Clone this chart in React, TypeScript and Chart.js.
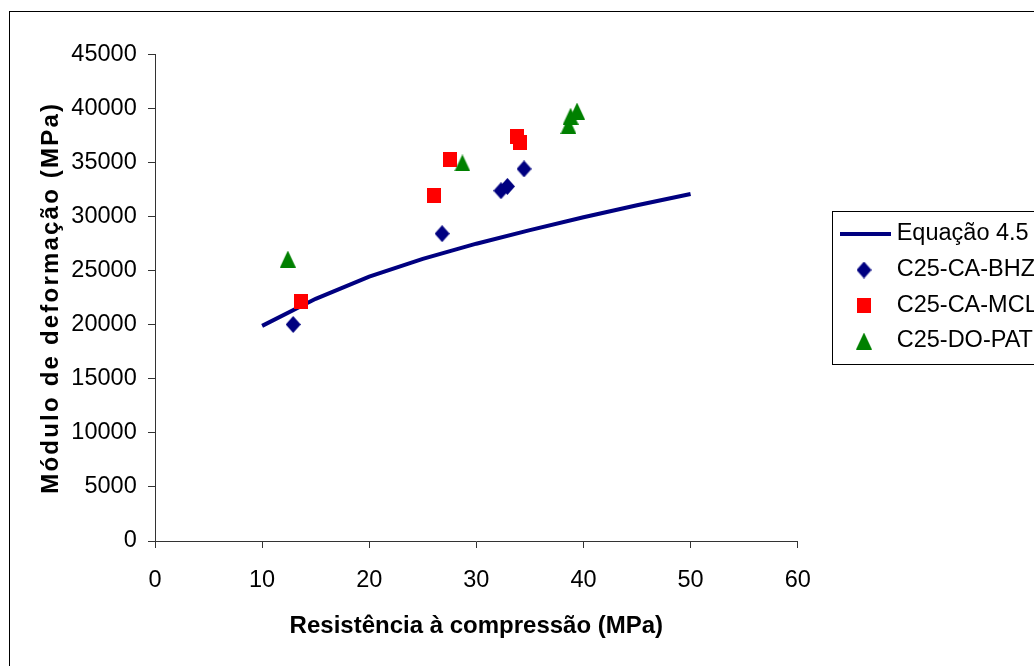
import React, { useEffect, useRef } from "react";
import { Chart, registerables } from "chart.js";

Chart.register(...registerables);

// ---- data ----
const seriesLabels = ["Equação 4.5", "C25-CA-BHZ", "C25-CA-MCL", "C25-DO-PAT"];

const eqX = [10, 15, 20, 25, 30, 35, 40, 45, 50];
const eqY = [19900, 22400, 24450, 26100, 27500, 28750, 29950, 31050, 32100];

const bhzX = [12.9, 26.8, 32.3, 32.9, 34.45];
const bhzY = [20030, 28430, 32400, 32800, 34420];

const mclX = [13.6, 26.0, 27.5, 33.8, 34.1];
const mclY = [22120, 31970, 35280, 37430, 36880];

const patX = [12.4, 28.7, 38.6, 38.8, 39.4];
const patY = [26080, 34970, 38430, 39290, 39770];

const xTicks = [0, 10, 20, 30, 40, 50, 60];
const yTicks = [0, 5000, 10000, 15000, 20000, 25000, 30000, 35000, 40000, 45000];

const xTitle = "Resistência à compressão (MPa)";
const yTitle = "Módulo de deformação (MPa)";

// ---- styling ----
const FONT = "'Liberation Sans', Arial, Helvetica, sans-serif";
const NAVY = "#000080";
const RED = "#FF0000";
const GREEN = "#008000";

function makeMarker(shape: string, color: string, w: number, h: number) {
  const c = document.createElement("canvas");
  c.width = w;
  c.height = h;
  const g = c.getContext("2d")!;
  g.fillStyle = color;
  g.beginPath();
  if (shape === "diamond") {
    g.moveTo(w / 2, 0);
    g.lineTo(w, h / 2);
    g.lineTo(w / 2, h);
    g.lineTo(0, h / 2);
  } else if (shape === "triangle") {
    g.moveTo(w / 2, 0);
    g.lineTo(w, h);
    g.lineTo(0, h);
  } else {
    g.rect(0, 0, w, h);
  }
  g.closePath();
  g.fill();
  return c;
}

const zip = (xs: number[], ys: number[]) => xs.map((x, i) => ({ x, y: ys[i] }));

export default function App() {
  const ref = useRef<HTMLCanvasElement | null>(null);

  useEffect(() => {
    const canvas = ref.current;
    if (!canvas) return;

    const diamond = makeMarker("diamond", NAVY, 15, 17);
    const square = makeMarker("square", RED, 14, 15);
    const triangle = makeMarker("triangle", GREEN, 16, 17);
    const markers = [null, diamond, square, triangle];

    const frame = {
      id: "frame",
      beforeDraw(chart: any) {
        const ctx = chart.ctx;
        ctx.save();
        ctx.fillStyle = "#ffffff";
        ctx.fillRect(0, 0, chart.width, chart.height);
        ctx.strokeStyle = "#000000";
        ctx.lineWidth = 1;
        ctx.strokeRect(9.5, 11.5, 2000, 2000);
        ctx.restore();
        const s: any = chart.scales.y;
        if (s && !s.__ls) {
          const orig = s.drawTitle.bind(s);
          s.drawTitle = () => {
            const c: any = s.ctx;
            const prev = c.letterSpacing;
            c.letterSpacing = "2.2px";
            orig();
            c.letterSpacing = prev;
          };
          s.__ls = true;
        }
      },
    };

    const boxLegend = {
      id: "boxLegend",
      afterDraw(chart: any) {
        const ctx = chart.ctx;
        const left = 832;
        const top = 211;
        const rowY = [234, 270, 305.5, 341];
        ctx.save();
        ctx.strokeStyle = "#000000";
        ctx.lineWidth = 1;
        ctx.strokeRect(left + 0.5, top + 0.5, 400, 153);
        chart.data.datasets.forEach((ds: any, i: number) => {
          const y = rowY[i];
          if (i === 0) {
            ctx.strokeStyle = ds.borderColor;
            ctx.lineWidth = ds.borderWidth;
            ctx.beginPath();
            ctx.moveTo(840, y);
            ctx.lineTo(891, y);
            ctx.stroke();
          } else {
            const m: any = markers[i];
            ctx.drawImage(m, 864 - m.width / 2, y - m.height / 2);
          }
          ctx.fillStyle = "#000000";
          ctx.font = `23.5px ${FONT}`;
          ctx.textBaseline = "middle";
          ctx.textAlign = "left";
          ctx.fillText(ds.label, 896.7, y);
        });
        ctx.restore();
      },
    };

    const chart = new Chart(canvas, {
      type: "scatter",
      data: {
        datasets: [
          {
            label: seriesLabels[0],
            data: zip(eqX, eqY),
            showLine: true,
            borderColor: NAVY,
            backgroundColor: NAVY,
            borderWidth: 4,
            pointRadius: 0,
            tension: 0,
            order: 10,
          } as any,
          {
            label: seriesLabels[1],
            data: zip(bhzX, bhzY),
            pointStyle: diamond,
            backgroundColor: NAVY,
            borderColor: NAVY,
            order: 3,
          },
          {
            label: seriesLabels[2],
            data: zip(mclX, mclY),
            pointStyle: square,
            backgroundColor: RED,
            borderColor: RED,
            order: 2,
          },
          {
            label: seriesLabels[3],
            data: zip(patX, patY),
            pointStyle: triangle,
            backgroundColor: GREEN,
            borderColor: GREEN,
            order: 1,
          },
        ],
      },
      options: {
        responsive: false,
        animation: false,
        devicePixelRatio: 1,
        layout: { padding: { left: 0, top: 54.5, right: 302.3, bottom: 0 } },
        plugins: {
          legend: { display: false },
          tooltip: { enabled: false },
        },
        scales: {
          x: {
            type: "linear",
            min: 0,
            max: 60,
            afterFit: (s: any) => {
              s.height = 179;
            },
            afterBuildTicks: (s: any) => {
              s.ticks = xTicks.map((v) => ({ value: v }));
            },
            ticks: {
              callback: (v: any) => String(v),
              font: { family: FONT, size: 23.5 },
              color: "#000000",
              padding: 18.7,
              maxRotation: 0,
            },
            grid: {
              drawOnChartArea: false,
              drawTicks: true,
              tickLength: 7,
              color: "#333333",
              lineWidth: 1,
            },
            border: { display: true, color: "#333333", width: 1 },
            title: {
              display: true,
              text: xTitle,
              color: "#000000",
              font: { family: FONT, size: 24, weight: "bold" },
              padding: { top: 0, bottom: 79.6 },
            },
          },
          y: {
            type: "linear",
            min: 0,
            max: 45000,
            afterFit: (s: any) => {
              s.width = 155;
            },
            afterBuildTicks: (s: any) => {
              s.ticks = yTicks.map((v) => ({ value: v }));
            },
            ticks: {
              callback: (v: any) => String(v),
              font: { family: FONT, size: 23.5 },
              color: "#000000",
              padding: 11.3,
            },
            grid: {
              drawOnChartArea: false,
              drawTicks: true,
              tickLength: 7,
              color: "#333333",
              lineWidth: 1,
            },
            border: { display: true, color: "#333333", width: 1 },
            title: {
              display: true,
              text: yTitle,
              color: "#000000",
              font: { family: FONT, size: 24, weight: "bold" },
              padding: { top: 36.6, bottom: 0 },
            },
          },
        },
      } as any,
      plugins: [frame, boxLegend],
    });

    return () => {
      chart.destroy();
    };
  }, []);

  return (
    <div
      style={{
        position: "fixed",
        left: 0,
        top: 0,
        width: 1034,
        height: 666,
        overflow: "hidden",
        background: "#ffffff",
      }}
    >
      <canvas ref={ref} width={1100} height={720} style={{ display: "block" }} />
    </div>
  );
}
